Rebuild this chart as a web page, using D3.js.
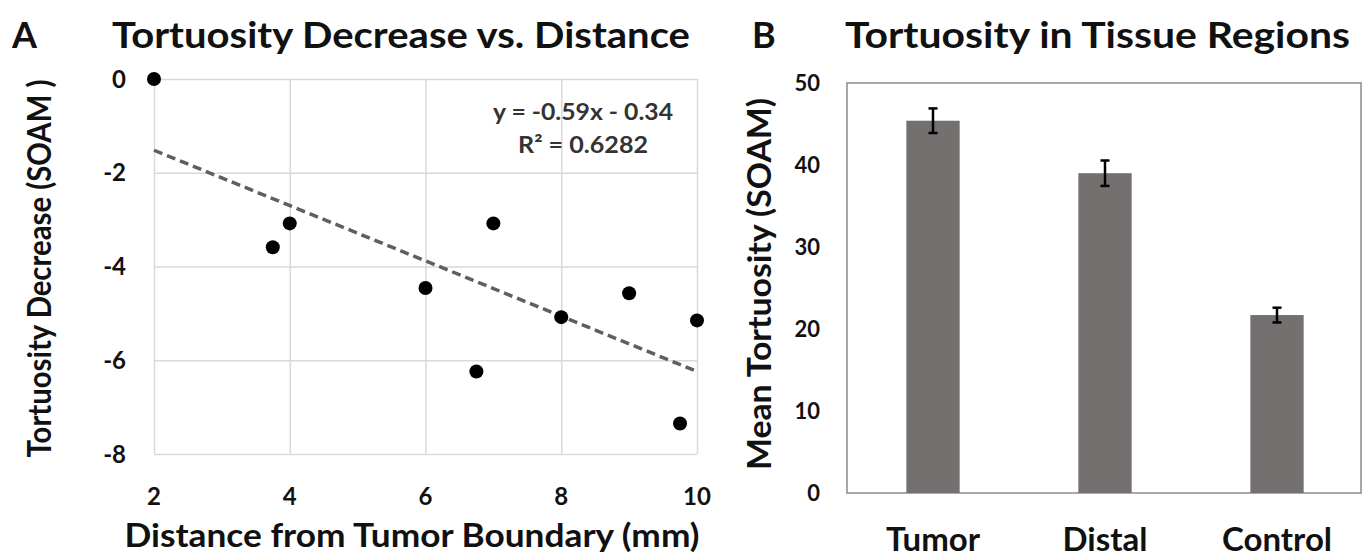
<!DOCTYPE html>
<html>
<head>
<meta charset="utf-8">
<script src="https://cdn.jsdelivr.net/npm/d3@7"></script>
<style>
  html, body { margin: 0; padding: 0; background: #fff; }
  svg { display: block; font-family: Lato, "Open Sans", sans-serif; font-weight: 700; }
</style>
</head>
<body>
<div id="chart"></div>
<script>
// Panel A: scatter with linear fit
const distance = [2, 3.75, 4, 6, 6.75, 7, 8, 9, 9.75, 10];
const decrease = [0, -3.59, -3.08, -4.46, -6.24, -3.08, -5.08, -4.57, -7.35, -5.15];
const fitSlope = -0.59;
const fitIntercept = -0.34;
const fitLabels = ["y = -0.59x - 0.34", "R\u00b2 = 0.6282"];
const xTicksA = [2, 4, 6, 8, 10];
const yTicksA = [0, -2, -4, -6, -8];

// Panel B: bars with error bars
const regions = ["Tumor", "Distal", "Control"];
const meanTortuosity = [45.4, 39.0, 21.7];
const tortuosityErr = [1.5, 1.55, 0.9];
const yTicksB = [0, 10, 20, 30, 40, 50];

const W = 1363, H = 559;
const INK = "#111";

const svg = d3.select("#chart").append("svg")
  .attr("width", W).attr("height", H);

// ── Panel A ──────────────────────────────────────────────
const xA = d3.scaleLinear().domain([2, 10]).range([154, 697]);
const yA = d3.scaleLinear().domain([-8, 0]).range([454, 79]);

const gA = svg.append("g");

gA.append("text")
  .attr("x", 12).attr("y", 48)
  .attr("font-size", 36).attr("fill", INK)
  .text("A");

gA.append("text")
  .attr("x", 112).attr("y", 48)
  .attr("font-size", 36).attr("fill", INK)
  .attr("textLength", 578).attr("lengthAdjust", "spacingAndGlyphs")
  .text("Tortuosity Decrease vs. Distance");

// gridlines
gA.append("g")
  .attr("transform", `translate(0,${yA(-8)})`)
  .call(d3.axisBottom(xA).tickValues(xTicksA).tickSize(-(yA(-8) - yA(0))).tickFormat(""))
  .call(g => g.select(".domain").remove())
  .selectAll(".tick line").attr("stroke", "#d9d9d9").attr("stroke-width", 1.5);

gA.append("g")
  .attr("transform", `translate(${xA(2)},0)`)
  .call(d3.axisLeft(yA).tickValues(yTicksA).tickSize(-(xA(10) - xA(2))).tickFormat(""))
  .call(g => g.select(".domain").remove())
  .selectAll(".tick line").attr("stroke", "#d9d9d9").attr("stroke-width", 1.5);

// tick labels
gA.append("g")
  .selectAll("text")
  .data(xTicksA)
  .join("text")
    .attr("x", d => xA(d)).attr("y", 505)
    .attr("text-anchor", "middle")
    .attr("font-size", 24).attr("fill", INK)
    .text(d => d);

gA.append("g")
  .selectAll("text")
  .data(yTicksA)
  .join("text")
    .attr("x", 126).attr("y", d => yA(d))
    .attr("dy", "0.36em")
    .attr("text-anchor", "end")
    .attr("font-size", 24).attr("fill", INK)
    .text(d => d);

// fit line
gA.append("line")
  .attr("x1", xA(2)).attr("y1", yA(fitSlope * 2 + fitIntercept))
  .attr("x2", xA(10)).attr("y2", yA(fitSlope * 10 + fitIntercept))
  .attr("stroke", "#5f5f5f").attr("stroke-width", 3.5)
  .attr("stroke-dasharray", "9 5");

// points
gA.append("g")
  .selectAll("circle")
  .data(distance.map((d, i) => ({ x: d, y: decrease[i] })))
  .join("circle")
    .attr("cx", d => xA(d.x)).attr("cy", d => yA(d.y))
    .attr("r", 7)
    .attr("fill", "#000");

gA.append("g")
  .selectAll("text")
  .data(fitLabels)
  .join("text")
    .attr("x", 583).attr("y", (d, i) => 120 + i * 33)
    .attr("text-anchor", "middle")
    .attr("font-size", 23).attr("fill", "#333")
    .attr("textLength", (d, i) => i === 0 ? 180 : 130)
    .attr("lengthAdjust", "spacingAndGlyphs")
    .text(d => d);

gA.append("text")
  .attr("transform", `translate(51,${(yA(0) + yA(-8)) / 2 + 2}) rotate(-90)`)
  .attr("text-anchor", "middle")
  .attr("font-size", 32).attr("fill", INK)
  .attr("textLength", 378).attr("lengthAdjust", "spacingAndGlyphs")
  .text("Tortuosity Decrease (SOAM )");

gA.append("text")
  .attr("x", 412).attr("y", 547)
  .attr("text-anchor", "middle")
  .attr("font-size", 32).attr("fill", INK)
  .attr("textLength", 575).attr("lengthAdjust", "spacingAndGlyphs")
  .text("Distance from Tumor Boundary (mm)");

// ── Panel B ──────────────────────────────────────────────
const xB = d3.scaleBand().domain(regions).range([847, 1363]).paddingInner(0.69).paddingOuter(0.345);
const yB = d3.scaleLinear().domain([0, 50]).range([493, 83]);

const gB = svg.append("g");

gB.append("text")
  .attr("x", 752).attr("y", 48)
  .attr("font-size", 36).attr("fill", INK)
  .text("B");

gB.append("text")
  .attr("x", 845).attr("y", 48)
  .attr("font-size", 36).attr("fill", INK)
  .attr("textLength", 505).attr("lengthAdjust", "spacingAndGlyphs")
  .text("Tortuosity in Tissue Regions");

gB.append("rect")
  .attr("x", 847).attr("y", yB(50))
  .attr("width", 1361 - 847).attr("height", yB(0) - yB(50))
  .attr("fill", "none").attr("stroke", "#8c8c8c").attr("stroke-width", 1.5);

gB.append("g")
  .selectAll("rect")
  .data(regions)
  .join("rect")
    .attr("x", d => xB(d)).attr("width", xB.bandwidth())
    .attr("y", (d, i) => yB(meanTortuosity[i]))
    .attr("height", (d, i) => yB(0) - yB(meanTortuosity[i]))
    .attr("fill", "#747070");

const err = gB.append("g")
  .attr("stroke", "#000").attr("stroke-width", 2.5)
  .selectAll("g")
  .data(regions)
  .join("g")
    .attr("transform", d => `translate(${xB(d) + xB.bandwidth() / 2},0)`);

err.append("line")
  .attr("y1", (d, i) => yB(meanTortuosity[i] + tortuosityErr[i]))
  .attr("y2", (d, i) => yB(meanTortuosity[i] - tortuosityErr[i]));
err.append("line")
  .attr("x1", -4.5).attr("x2", 4.5)
  .attr("y1", (d, i) => yB(meanTortuosity[i] + tortuosityErr[i]))
  .attr("y2", (d, i) => yB(meanTortuosity[i] + tortuosityErr[i]));
err.append("line")
  .attr("x1", -4.5).attr("x2", 4.5)
  .attr("y1", (d, i) => yB(meanTortuosity[i] - tortuosityErr[i]))
  .attr("y2", (d, i) => yB(meanTortuosity[i] - tortuosityErr[i]));

gB.append("g")
  .selectAll("text")
  .data(yTicksB)
  .join("text")
    .attr("x", 820).attr("y", d => yB(d))
    .attr("dy", "0.36em")
    .attr("text-anchor", "end")
    .attr("font-size", 22).attr("fill", INK)
    .text(d => d);

gB.append("g")
  .selectAll("text")
  .data(regions)
  .join("text")
    .attr("x", d => xB(d) + xB.bandwidth() / 2).attr("y", 551)
    .attr("text-anchor", "middle")
    .attr("font-size", 33).attr("fill", INK)
    .text(d => d);

gB.append("text")
  .attr("transform", `translate(771,${(yB(0) + yB(50)) / 2 - 4}) rotate(-90)`)
  .attr("text-anchor", "middle")
  .attr("font-size", 32).attr("fill", INK)
  .attr("textLength", 372).attr("lengthAdjust", "spacingAndGlyphs")
  .text("Mean Tortuosity (SOAM)");
</script>
</body>
</html>
